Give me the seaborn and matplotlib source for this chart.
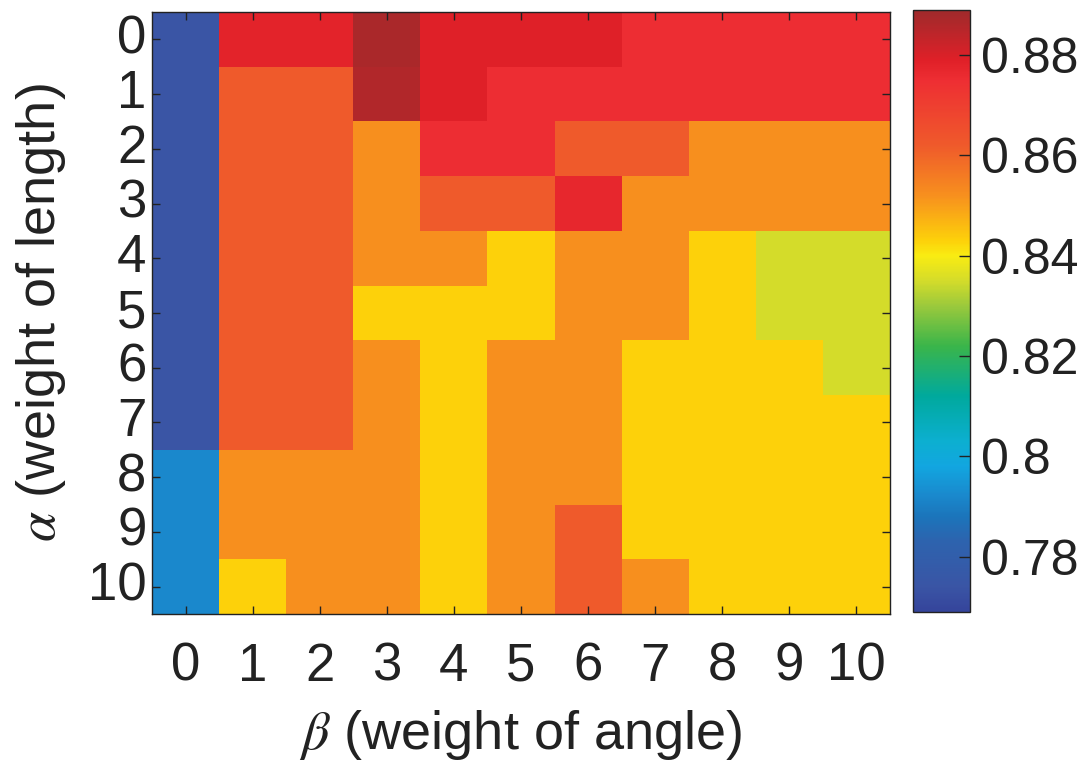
import numpy as np
import pandas as pd
import matplotlib
matplotlib.use("Agg")
import matplotlib.pyplot as plt
from matplotlib.colors import LinearSegmentedColormap
import seaborn as sns

# ---- data (rows: alpha 0..10, columns: beta 0..10) ----
beta_labels = ["0", "1", "2", "3", "4", "5", "6", "7", "8", "9", "10"]
alpha_labels = ["0", "1", "2", "3", "4", "5", "6", "7", "8", "9", "10"]

row_a0 = [0.774, 0.878, 0.878, 0.887, 0.879, 0.879, 0.879, 0.875, 0.875, 0.875, 0.875]
row_a1 = [0.774, 0.862, 0.862, 0.886, 0.879, 0.875, 0.875, 0.875, 0.875, 0.875, 0.875]
row_a2 = [0.774, 0.862, 0.862, 0.852, 0.875, 0.875, 0.862, 0.862, 0.852, 0.852, 0.852]
row_a3 = [0.774, 0.862, 0.862, 0.852, 0.862, 0.862, 0.877, 0.852, 0.852, 0.852, 0.852]
row_a4 = [0.774, 0.862, 0.862, 0.852, 0.852, 0.843, 0.852, 0.852, 0.843, 0.835, 0.835]
row_a5 = [0.774, 0.862, 0.862, 0.843, 0.843, 0.843, 0.852, 0.852, 0.843, 0.835, 0.835]
row_a6 = [0.774, 0.862, 0.862, 0.852, 0.843, 0.852, 0.852, 0.843, 0.843, 0.843, 0.835]
row_a7 = [0.774, 0.862, 0.862, 0.852, 0.843, 0.852, 0.852, 0.843, 0.843, 0.843, 0.843]
row_a8 = [0.792, 0.852, 0.852, 0.852, 0.843, 0.852, 0.852, 0.843, 0.843, 0.843, 0.843]
row_a9 = [0.792, 0.852, 0.852, 0.852, 0.843, 0.852, 0.862, 0.843, 0.843, 0.843, 0.843]
row_a10 = [0.792, 0.843, 0.852, 0.852, 0.843, 0.852, 0.862, 0.852, 0.843, 0.843, 0.843]

cbar_ticks = [0.78, 0.80, 0.82, 0.84, 0.86, 0.88]
cbar_ticklabels = ["0.78", "0.8", "0.82", "0.84", "0.86", "0.88"]
vmin, vmax = 0.769, 0.889

data = pd.DataFrame(
    [row_a0, row_a1, row_a2, row_a3, row_a4, row_a5,
     row_a6, row_a7, row_a8, row_a9, row_a10],
    index=alpha_labels, columns=beta_labels)

# ---- colormap built to resemble the reference ----
anchors = [
    (0.769, "#35449b"), (0.774, "#3a55a5"), (0.783, "#2d63ae"),
    (0.788, "#1b75bb"), (0.792, "#1a88cc"), (0.798, "#12a6e0"),
    (0.803, "#0cafd0"), (0.812, "#00a99d"), (0.822, "#3ab54a"),
    (0.830, "#9bc93c"), (0.835, "#d4dc2a"), (0.840, "#f9ec12"),
    (0.843, "#fdd10a"), (0.852, "#f7901e"), (0.862, "#ef5a2b"),
    (0.875, "#ee2e33"), (0.879, "#e02028"), (0.889, "#9e2a2b"),
]
cmap = LinearSegmentedColormap.from_list(
    "ref", [((v - vmin) / (vmax - vmin), c) for v, c in anchors], N=512)

sns.set_style("white")
plt.rcParams["font.family"] = ["Liberation Sans", "DejaVu Sans"]
plt.rcParams["mathtext.fontset"] = "stix"

fig = plt.figure(figsize=(10.84, 7.71), dpi=100)
ax = fig.add_axes([0.1402, 0.2036, 0.6808, 0.7808])
cax = fig.add_axes([0.8423, 0.2062, 0.0526, 0.7812])

sns.heatmap(data, cmap=cmap, vmin=vmin, vmax=vmax, ax=ax, cbar_ax=cax,
            xticklabels=beta_labels, yticklabels=alpha_labels)

ax.set_axisbelow(False)
cax.set_axisbelow(False)

tick_fs = 38
label_fs = 39
cbar_fs = 36
ink = "#222222"
for side in ["top", "bottom", "left", "right"]:
    ax.spines[side].set_visible(True)
    ax.spines[side].set_color(ink)
    ax.spines[side].set_linewidth(1.0)
    ax.spines[side].set_zorder(5)

ax.tick_params(axis="both", direction="in", length=6, width=1, color=ink,
               top=True, right=True, bottom=True, left=True,
               labelsize=tick_fs, labelcolor=ink)
ax.tick_params(axis="x", pad=20, labelrotation=0)
ax.tick_params(axis="y", pad=4, labelrotation=0)

ax.set_xlabel(r"$\beta$ (weight of angle)", fontsize=label_fs, color=ink, labelpad=12)
ax.set_ylabel(r"$\alpha$ (weight of length)", fontsize=label_fs, color=ink, labelpad=14)

cb = ax.collections[0].colorbar
cb.outline.set_visible(True)
cb.outline.set_linewidth(1.0)
cb.outline.set_edgecolor(ink)
cb.set_ticks(cbar_ticks)
cb.set_ticklabels(cbar_ticklabels)
cax.tick_params(direction="in", length=8, width=1, color=ink, right=True,
                labelsize=cbar_fs, labelcolor=ink, pad=8)

fig.savefig("out.png", dpi=100)
